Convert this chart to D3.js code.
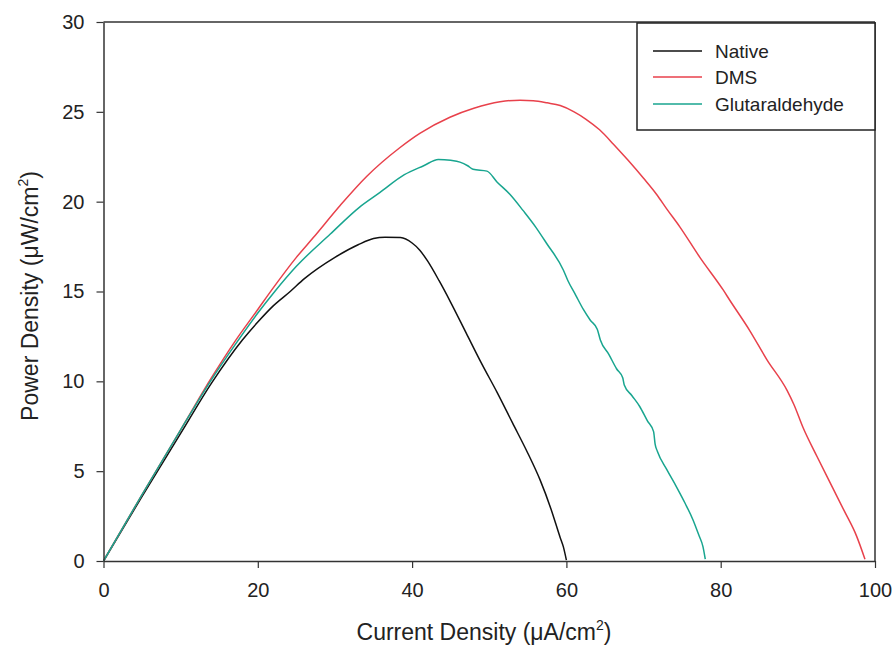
<!DOCTYPE html>
<html><head><meta charset="utf-8">
<script src="https://cdn.jsdelivr.net/npm/d3@7"></script>
<style>body{margin:0;background:#fff}svg{display:block}text{font-family:"Liberation Sans",Arial,sans-serif;fill:#222}</style>
</head><body><svg id="c" width="896" height="656"></svg>
<script>
const seriesNames = ["Native", "DMS", "Glutaraldehyde"];
const seriesColors = ["#111111", "#e8414b", "#18a58f"];
const xTicks = [0, 20, 40, 60, 80, 100];
const yTicks = [0, 5, 10, 15, 20, 25, 30];

const nativeX = [0, 5, 10, 14, 18, 20, 22, 24.2, 26, 30, 33, 35, 36.5, 38.5, 40, 41, 42, 43.5, 45, 47, 49, 51, 53, 55, 56.6, 58, 59.2, 59.6, 60];
const nativeY = [0, 3.6, 7.1, 9.9, 12.3, 13.3, 14.2, 15.0, 15.7, 16.9, 17.6, 17.95, 18.02, 18.0, 17.7, 17.3, 16.7, 15.6, 14.4, 12.7, 11.0, 9.4, 7.7, 6.0, 4.5, 2.9, 1.3, 0.8, 0.05];

const dmsX = [0, 5, 10, 14, 17, 20, 22, 25, 27.2, 30.7, 34.1, 38.4, 41, 44.9, 48, 51.4, 54, 55.7, 57.5, 59.2, 61, 62.5, 64.3, 66.1, 68, 70, 71.7, 73, 74.7, 77.3, 80.3, 81.2, 83.8, 86, 88.6, 89.5, 90.7, 92.5, 94.6, 96, 97.6, 98.7];
const dmsY = [0, 3.7, 7.3, 10.2, 12.2, 14.0, 15.2, 16.9, 18.0, 19.8, 21.4, 23.0, 23.8, 24.7, 25.2, 25.56, 25.65, 25.62, 25.5, 25.35, 25.0, 24.6, 24.0, 23.2, 22.3, 21.3, 20.4, 19.6, 18.6, 16.9, 15.1, 14.5, 12.8, 11.2, 9.5, 8.7, 7.4, 5.8, 4.0, 2.8, 1.4, 0.1];

const gluX = [0, 5, 10, 14, 17, 20, 22.2, 25, 29.4, 33.2, 35.8, 39, 41.5, 43.4, 45, 46.2, 47.2, 47.9, 49.7, 51, 52.7, 54.4, 56, 57.4, 59.6, 60.2, 61.2, 62.2, 63.1, 64.0, 64.4, 65.5, 66.5, 67.3, 67.5, 68.5, 69.5, 70.5, 71.3, 71.5, 71.8, 73, 74.3, 75.4, 76.4, 77.2, 77.7, 78.0];
const gluY = [0, 3.7, 7.3, 10.1, 12.0, 13.8, 15.0, 16.4, 18.2, 19.7, 20.5, 21.5, 22.0, 22.35, 22.3, 22.2, 22.0, 21.8, 21.7, 21.1, 20.4, 19.5, 18.6, 17.7, 16.2, 15.6, 14.8, 14.0, 13.4, 12.9, 12.3, 11.5, 10.7, 10.2, 9.8, 9.2, 8.6, 7.8, 7.2, 6.5, 6.1, 5.1, 4.1, 3.2, 2.3, 1.4, 0.8, 0.1];

const seriesX = [nativeX, dmsX, gluX];
const seriesY = [nativeY, dmsY, gluY];

const svg = d3.select("#c");
const L = 103.5, R = 875, T = 22, B = 561;
const x = d3.scaleLinear().domain([0, 100]).range([L, R]);
const y = d3.scaleLinear().domain([0, 30]).range([B, T]);

const axisColor = "#333";
svg.append("line").attr("x1", L).attr("x2", R).attr("y1", T).attr("y2", T).attr("stroke", axisColor).attr("stroke-width", 1.5);
svg.append("line").attr("x1", R).attr("x2", R).attr("y1", T).attr("y2", B).attr("stroke", axisColor).attr("stroke-width", 1.5);

const line = d3.line().x(d => x(d[0])).y(d => y(d[1])).curve(d3.curveMonotoneX);
seriesNames.forEach((n, i) => {
  const pts = seriesX[i].map((v, j) => [v, seriesY[i][j]]);
  svg.append("path").datum(pts).attr("d", line).attr("fill", "none")
    .attr("stroke", seriesColors[i]).attr("stroke-width", 1.5);
});

const xa = svg.append("g").attr("transform", `translate(0,${B})`)
  .call(d3.axisBottom(x).tickValues(xTicks).tickSize(7).tickPadding(15).tickSizeOuter(0));
const ya = svg.append("g").attr("transform", `translate(${L},0)`)
  .call(d3.axisLeft(y).tickValues(yTicks).tickSize(7).tickPadding(12).tickSizeOuter(0));
[xa, ya].forEach(g => {
  g.select(".domain").attr("stroke", axisColor).attr("stroke-width", 1.5);
  g.selectAll(".tick line").attr("stroke", axisColor).attr("stroke-width", 1.2);
  g.selectAll(".tick text").attr("font-size", 20).attr("fill", "#222")
    .attr("font-family", '"Liberation Sans", Arial, sans-serif');
});

const xt = svg.append("text").attr("x", 484).attr("y", 640).attr("text-anchor", "middle").attr("font-size", 23);
xt.append("tspan").text("Current Density (\u03bcA/cm");
xt.append("tspan").text("2").attr("font-size", 14).attr("dy", -10);
xt.append("tspan").text(")").attr("dy", 10);

const yt = svg.append("text").attr("transform", `translate(38,296) rotate(-90)`).attr("text-anchor", "middle").attr("font-size", 23);
yt.append("tspan").text("Power Density (\u03bcW/cm");
yt.append("tspan").text("2").attr("font-size", 14).attr("dy", -10);
yt.append("tspan").text(")").attr("dy", 10);

const lg = svg.append("g");
lg.append("rect").attr("x", 637).attr("y", 23).attr("width", R - 637).attr("height", 107)
  .attr("fill", "#fff").attr("stroke", "#222").attr("stroke-width", 1.5);
const legY = [51, 77, 104];
seriesNames.forEach((n, i) => {
  lg.append("line").attr("x1", 653).attr("x2", 702).attr("y1", legY[i]).attr("y2", legY[i])
    .attr("stroke", seriesColors[i]).attr("stroke-width", 1.5);
  lg.append("text").attr("x", 715).attr("y", legY[i] + 7).attr("font-size", 19).text(n);
});
</script></body></html>
